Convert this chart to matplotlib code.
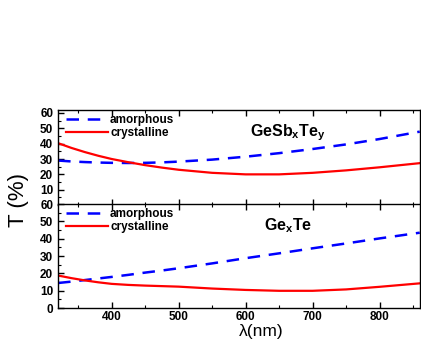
import matplotlib
matplotlib.use("Agg")
import matplotlib.pyplot as plt
import numpy as np
from matplotlib.ticker import MultipleLocator

plt.rcParams['font.family'] = ['Liberation Sans', 'DejaVu Sans']
plt.rcParams['font.weight'] = 'bold'
plt.rcParams['mathtext.fontset'] = 'custom'
plt.rcParams['mathtext.bf'] = 'Liberation Sans:bold'
plt.rcParams['mathtext.rm'] = 'Liberation Sans:bold'

wl = [320, 340, 360, 380, 400, 425, 450, 475, 500, 550, 600, 650, 700, 750, 800, 860]
gst_amorphous = [29.0, 28.4, 28.0, 27.7, 27.5, 27.4, 27.5, 27.8, 28.3, 29.6, 31.5, 33.8, 36.5, 39.5, 43.0, 47.8]
gst_crystalline = [40.3, 37.2, 34.5, 32.1, 30.0, 27.9, 26.0, 24.4, 23.0, 21.0, 20.0, 20.0, 21.0, 22.6, 24.6, 27.3]
gt_amorphous = [14.5, 15.3, 16.2, 17.1, 18.0, 19.2, 20.5, 21.7, 23.0, 25.8, 28.8, 31.6, 34.5, 37.3, 40.2, 43.5]
gt_crystalline = [18.8, 17.3, 16.0, 14.9, 14.0, 13.4, 13.0, 12.7, 12.4, 11.3, 10.5, 10.0, 10.0, 10.8, 12.3, 14.3]
xticks = [400, 500, 600, 700, 800]

fig = plt.figure(figsize=(4.21, 3.39), dpi=100)
ax1 = fig.add_axes([0.138, 0.395, 0.859, 0.281])
ax2 = fig.add_axes([0.138, 0.091, 0.859, 0.307])

def style(ax, ymax, yticks):
    ax.set_xlim(320, 860)
    ax.set_ylim(0, ymax)
    ax.set_xticks(xticks)
    ax.xaxis.set_minor_locator(MultipleLocator(50))
    ax.set_yticks(yticks)
    ax.yaxis.set_minor_locator(MultipleLocator(5))
    ax.tick_params(which='both', direction='in', top=True, right=False, labelsize=8.5)
    ax.tick_params(which='major', length=4, width=1)
    ax.tick_params(which='minor', length=2, width=0.8)
    ax.tick_params(axis='x', pad=2)
    for s in ax.spines.values():
        s.set_linewidth(1.0)
    for lab in ax.get_xticklabels() + ax.get_yticklabels():
        lab.set_fontweight('bold')

def add_legend(ax):
    ax.legend(loc='upper left', frameon=False, handlelength=3.6,
              bbox_to_anchor=(0.0, 1.035), borderaxespad=0.25,
              labelspacing=0.1, handletextpad=0.15,
              prop={'weight': 'bold', 'size': 8.5})

dash = (0, (5, 3.5))
ax1.plot(wl, gst_amorphous, color='#0000ff', lw=1.8, ls=dash, label='amorphous')
ax1.plot(wl, gst_crystalline, color='#ff0000', lw=1.6, label='crystalline')
style(ax1, 62, [10, 20, 30, 40, 50, 60])
ax1.tick_params(labelbottom=False)
ax1.text(0.53, 0.765, r'GeSb$_\mathbf{x}$Te$_\mathbf{y}$', transform=ax1.transAxes,
         fontsize=11.5, fontweight='bold', va='center')
add_legend(ax1)

ax2.plot(wl, gt_amorphous, color='#0000ff', lw=1.8, ls=dash, label='amorphous')
ax2.plot(wl, gt_crystalline, color='#ff0000', lw=1.6, label='crystalline')
style(ax2, 60, [0, 10, 20, 30, 40, 50, 60])
ax2.text(0.57, 0.795, r'Ge$_\mathbf{x}$Te', transform=ax2.transAxes,
         fontsize=11.5, fontweight='bold', va='center')
add_legend(ax2)

fig.text(0.62, 0.0, 'λ(nm)', fontsize=12.5, fontweight='normal', ha='center', va='bottom')
fig.text(0.043, 0.41, 'T (%)', rotation=90, fontsize=16, va='center', ha='center',
         fontweight='normal')

fig.savefig('out.png', dpi=100)
